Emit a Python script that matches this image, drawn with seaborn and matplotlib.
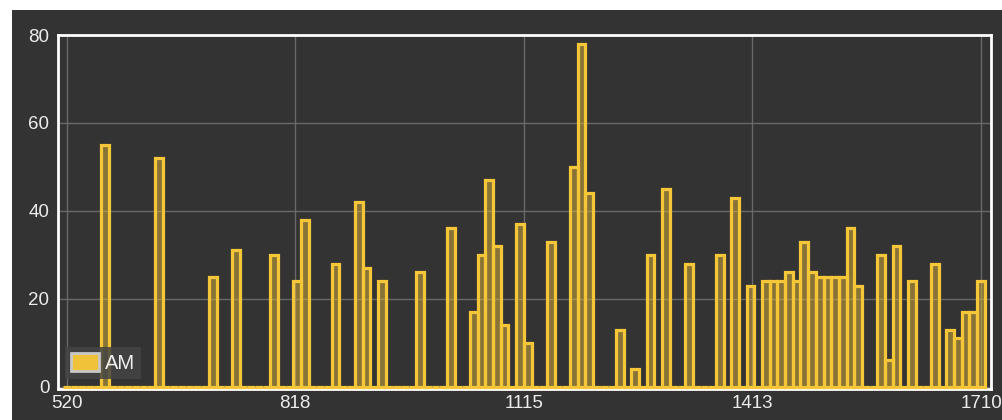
import numpy as np
import pandas as pd
import matplotlib
matplotlib.use("Agg")
import matplotlib.pyplot as plt
import seaborn as sns
from matplotlib.patches import Patch, Rectangle

# AM band, 10 kHz channels
freqs = list(range(520, 1711, 10))

# channels with a non-zero count (everything else is 0)
busy_freqs = [570, 640, 710, 740, 790, 820, 830, 870, 900, 910, 930, 980,
              1020, 1050, 1060, 1070, 1080, 1090, 1110, 1120, 1150, 1180, 1190, 1200,
              1240, 1260, 1280, 1300, 1330, 1370, 1390, 1410, 1430, 1440, 1450, 1460,
              1470, 1480, 1490, 1500, 1510, 1520, 1530, 1540, 1550, 1580, 1590, 1600,
              1620, 1650, 1670, 1680, 1690, 1700, 1710]
busy_counts = [55, 52, 25, 31, 30, 24, 38, 28, 42, 27, 24, 26,
               36, 17, 30, 47, 32, 14, 37, 10, 33, 50, 78, 44,
               13, 4, 30, 45, 28, 30, 43, 23, 24, 24, 24, 26,
               24, 33, 26, 25, 25, 25, 25, 36, 23, 30, 6, 32,
               24, 28, 13, 11, 17, 17, 24]

x_ticks = [520, 817.5, 1115, 1412.5, 1710]
x_tick_labels = ["520", "818", "1115", "1413", "1710"]
y_ticks = [0, 20, 40, 60, 80]

lookup = dict(zip(busy_freqs, busy_counts))
df = pd.DataFrame({"freq": freqs, "count": [lookup.get(f, 0) for f in freqs]})

BG = "#333333"
YEL = "#f0c23a"

sns.set_theme(style="dark")
plt.rcParams["font.family"] = ["Liberation Sans", "DejaVu Sans"]

fig = plt.figure(figsize=(10.03, 4.2), dpi=100)
fig.patch.set_facecolor("white")
# dark panel (the top/left white strips belong to the page around the chart)
fig.patches.append(Rectangle((12 / 1003, 0), 1, 1 - 10 / 420, transform=fig.transFigure,
                             facecolor=BG, edgecolor="none", zorder=-10))

ax = fig.add_axes([57.7 / 1003, 1 - 388.5 / 420, (990.7 - 57.7) / 1003, (388.5 - 35) / 420])
ax.set_facecolor(BG)

sns.barplot(data=df, x="freq", y="count", native_scale=True, width=1,
            color=YEL, edgecolor=YEL, linewidth=2.3, saturation=1, ax=ax)
for p in ax.patches:
    p.set_facecolor((0.94, 0.76, 0.23, 0.45))
    p.set_edgecolor((0.96, 0.78, 0.22, 1.0))
    p.set_zorder(3)
    p.set_clip_on(False)

ax.set_xlim(508.3, 1722.6)
ax.set_ylim(-0.4, 80)
ax.set_xticks(x_ticks)
ax.set_xticklabels(x_tick_labels)
ax.set_yticks(y_ticks)
ax.tick_params(axis="both", length=0, labelsize=13.5, colors="#ececec")
ax.tick_params(axis="x", pad=5)
ax.tick_params(axis="y", pad=6)
ax.set_xlabel("")
ax.set_ylabel("")

ax.grid(True, color="#6e6e6e", linewidth=1, alpha=0.9)
ax.set_axisbelow(True)
for s in ax.spines.values():
    s.set_visible(True)
    s.set_color("white")
    s.set_linewidth(2)
    s.set_zorder(2.5)

handle = Patch(facecolor=YEL, edgecolor="#c8c8c8", linewidth=2, label="AM")
leg = ax.legend(handles=[handle], loc="lower left", bbox_to_anchor=(0.0078, 0.028),
                borderaxespad=0, fontsize=14.5, frameon=True, fancybox=False,
                handlelength=1.4, handleheight=1.0, handletextpad=0.3, borderpad=0.3)
leg.get_frame().set_facecolor("#444444")
leg.get_frame().set_alpha(0.85)
leg.get_frame().set_edgecolor("none")
leg.set_zorder(5)
for t in leg.get_texts():
    t.set_color("#f0f0f0")

fig.savefig("out.png", dpi=100, facecolor=fig.get_facecolor())
